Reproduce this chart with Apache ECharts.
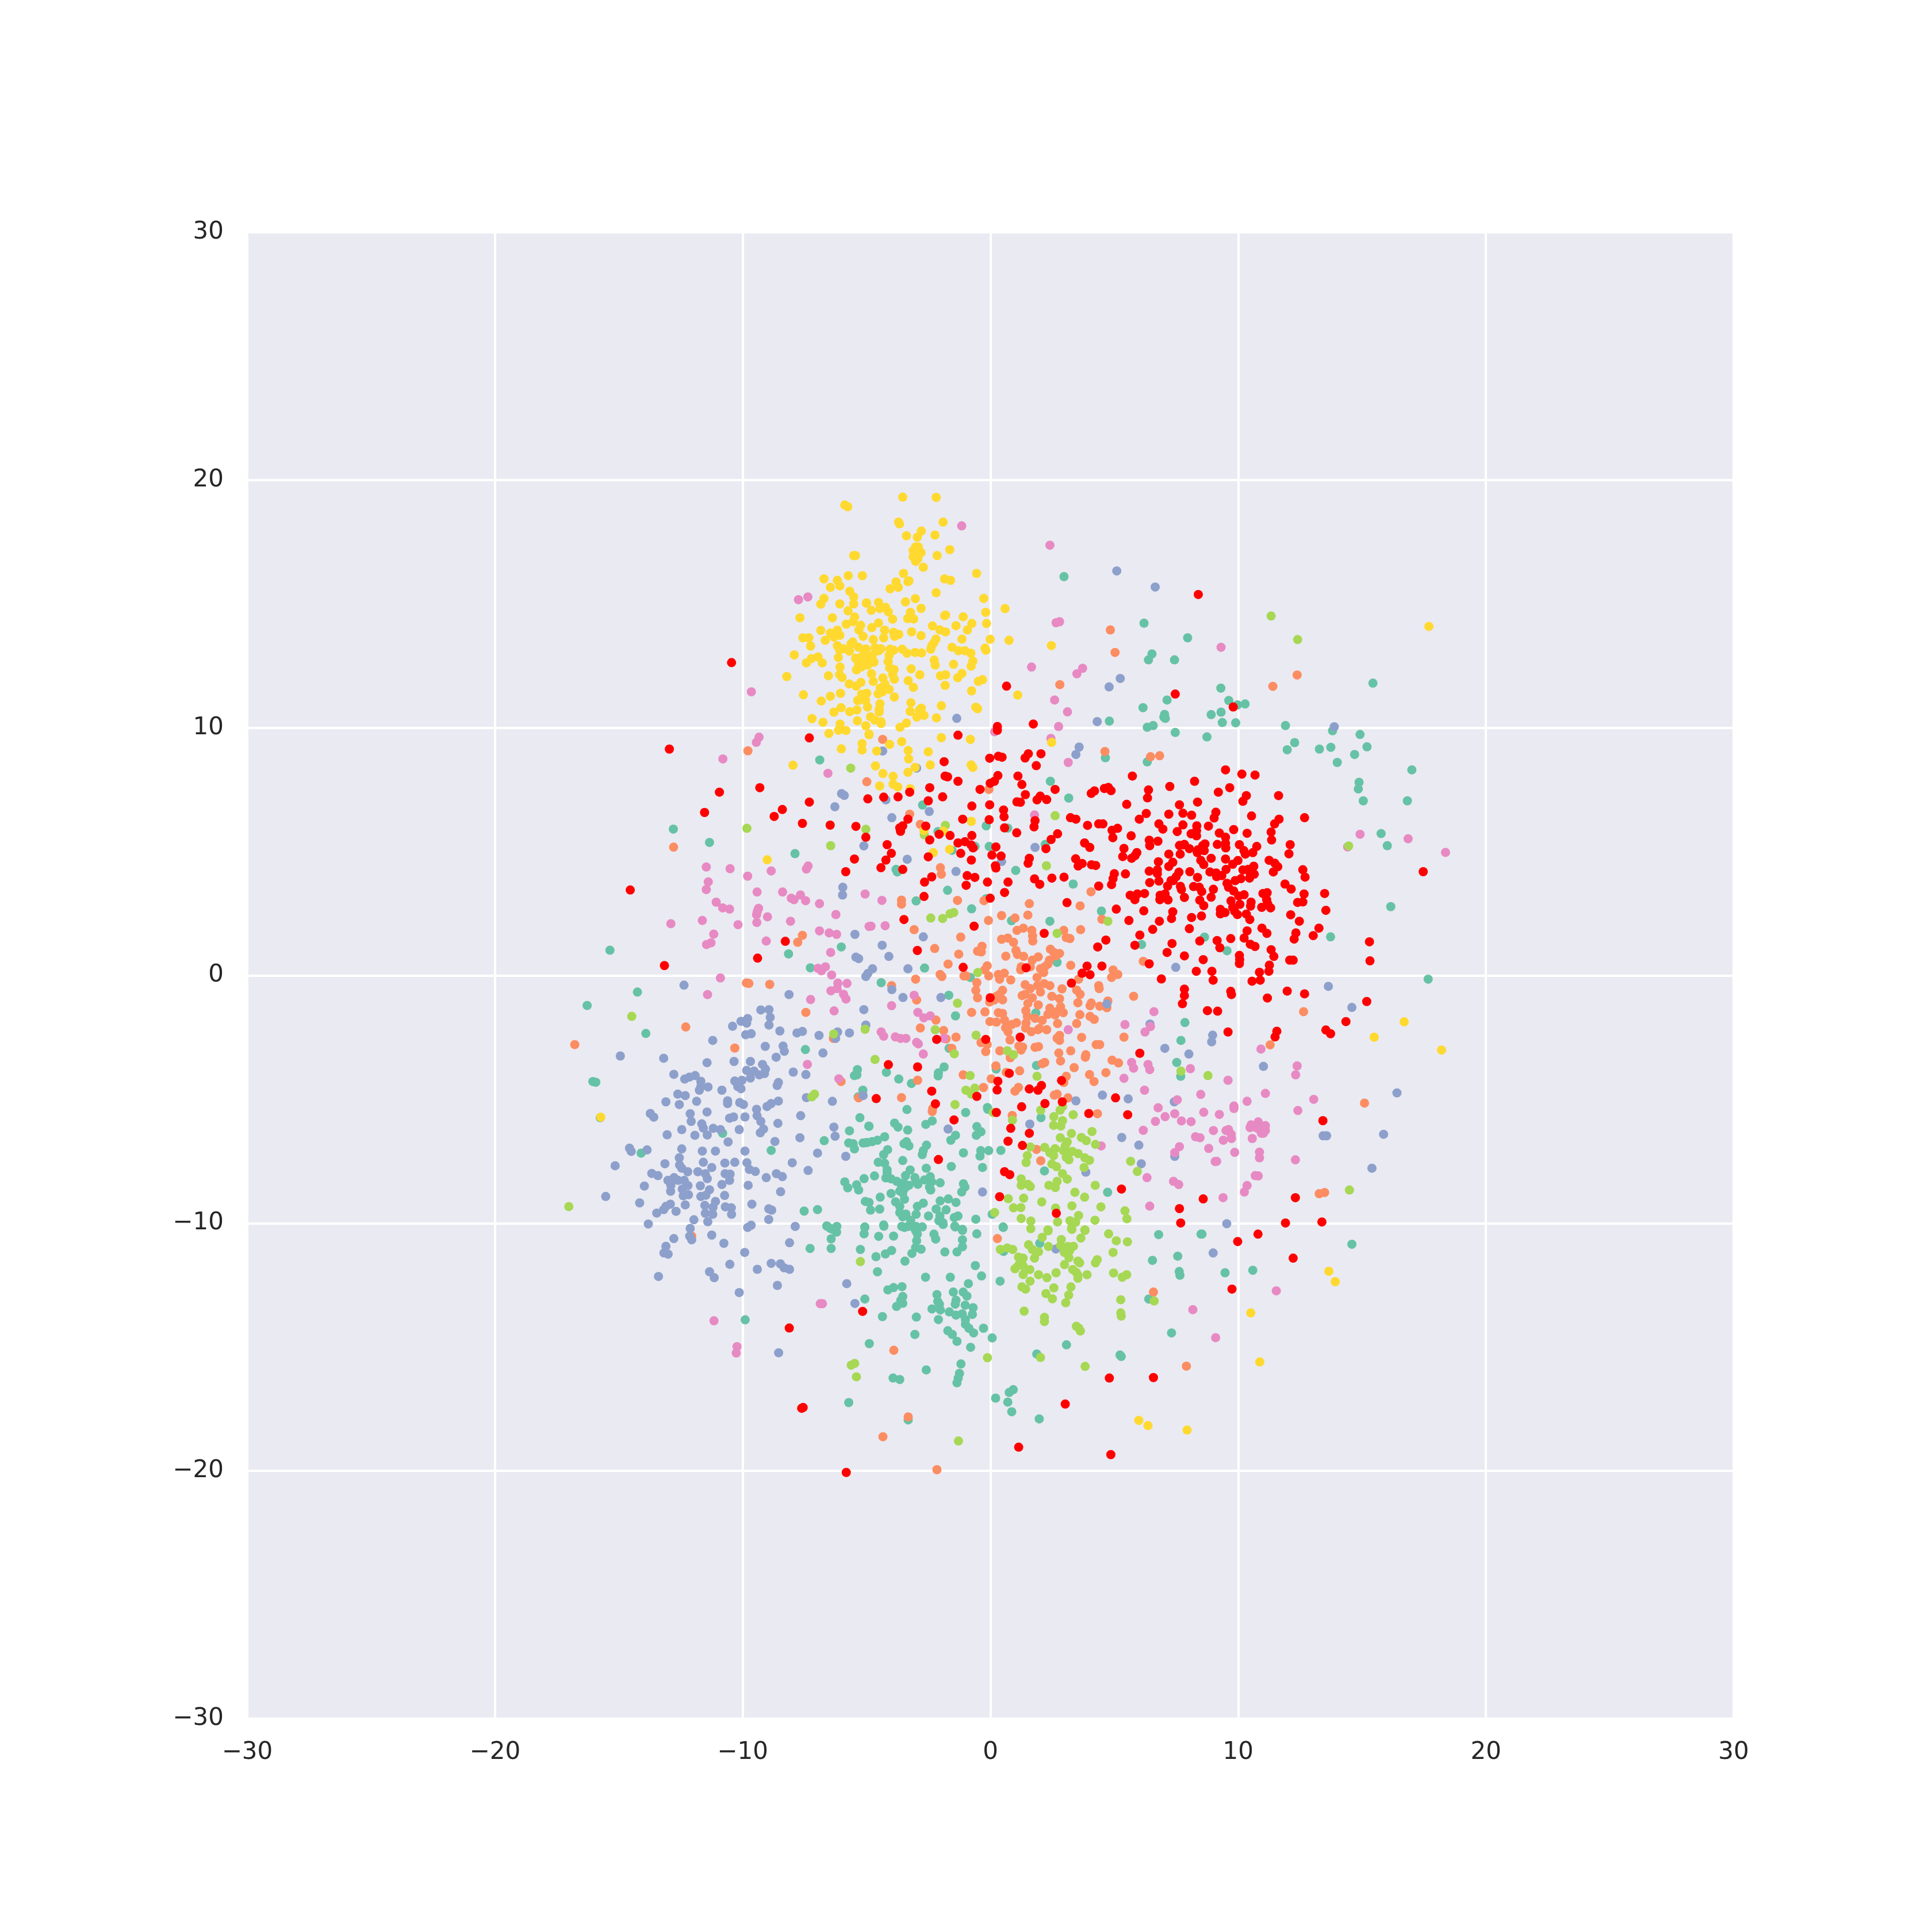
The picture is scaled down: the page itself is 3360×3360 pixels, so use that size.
<!DOCTYPE html>
<html>
<head>
<meta charset="utf-8">
<style>
  html, body { margin: 0; padding: 0; background: #fff; }
  #chart { width: 3360px; height: 3360px; }
</style>
</head>
<body>
<div id="chart"></div>
<script src="https://cdn.jsdelivr.net/npm/echarts@6/dist/echarts.min.js"></script>
<script>
const ticks = [-30, -20, -10, 0, 10, 20, 30]

const green = [
[2.97,16.1],[4.8,10.27],[6.2,14.22],[7.96,13.63],[6.52,12.98],[6.38,12.74],[7.43,12.74],[9.3,11.6],[15.44,11.8],[7.13,11.12],[6.16,10.81],[9.62,11.1],[9.97,10.92],[10.28,10.96],[7.03,10.54],[7.0,10.43],[7.06,10.38],[8.91,10.53],[9.31,10.63],[9.36,10.21],[9.9,10.2],[6.57,10.09],[6.33,10.02],[11.91,10.09],[13.81,9.88],[7.46,9.81],[8.74,9.63],[14.92,9.73],
[12.28,9.4],[11.98,9.11],[13.28,9.14],[13.74,9.21],[15.2,9.23],[14.7,8.92],[14.0,8.6],[17.01,8.3],[14.88,7.8],[14.85,7.53],[15.05,7.05],[16.83,7.05],[15.77,5.73],[16.02,5.24],[13.73,1.56],[16.16,2.78],[8.64,1.55],[9.55,1.0],[17.67,-0.15],
[4.64,8.79],[6.33,8.62],[2.42,7.84],[3.16,7.16],[-2.74,6.88],[-0.17,6.04],[0.7,5.95],[-2.12,5.81],[-0.62,5.21],[-0.05,5.21],[-1.55,5.05],[2.21,5.29],[-3.81,4.28],[-3.76,4.18],[1.02,4.24],[3.34,3.69],[-1.73,3.44],[-3.0,3.01],[-0.17,3.1],[-0.76,2.69],[0.85,2.21],[2.4,2.19],[4.48,2.6],[6.1,1.25],[2.69,0.53],[-2.66,0.3],[-0.81,-0.08],[-4.41,-0.29],
[-6.89,8.7],[-12.8,5.91],[-11.34,5.37],[-7.89,4.92],[-6.02,1.15],[-8.15,0.87],[-7.27,0.31],[-15.36,1.02],
[-14.25,-0.67],[-16.28,-1.21],[-13.91,-2.34],[-16.05,-4.28],[-15.93,-4.31],[-7.47,-2.99],[-5.37,-3.8],[-5.49,-4.04],[-5.39,-4.01],[-5.15,-4.63],[-5.34,-4.9],[-5.27,-5.74],[-10.81,-6.37],[-5.69,-6.27],[-6.71,-6.67],[-5.72,-6.76],[-5.54,-6.79],[-5.49,-7.0],[-5.14,-6.76],[-4.97,-6.74],[-4.9,-6.09],[-8.85,-7.06],[-14.1,-7.17],[-15.75,-5.74],[-5.88,-8.33],[-5.76,-8.57],[-5.4,-8.45],[-5.32,-8.66],[-5.1,-8.2],[-5.05,-9.12],[-7.52,-9.51],[-6.98,-9.45],[-6.61,-10.11],[-6.46,-10.21],[-6.2,-10.13],[-5.07,-10.15],
[-1.68,-0.8],[-1.41,-1.63],[1.83,-1.51],[-1.67,-2.94],[-1.87,-3.69],[-4.2,-3.91],[-3.7,-4.18],[-3.19,-4.36],[-2.1,-3.93],[-2.11,-4.05],[1.86,-3.63],[0.23,-3.78],[7.52,-3.51],[7.68,-4.07],[7.85,-1.9],[7.69,-2.62],[-3.37,-5.41],[-1.0,-5.53],[-0.12,-5.33],[-0.11,-5.4],[-2.35,-5.87],[-2.61,-6.01],[-4.91,-6.08],[-3.87,-5.96],[-3.73,-6.12],[-3.34,-6.24],[-0.55,-6.1],[-0.38,-6.31],[-0.57,-6.45],[-1.41,-6.45],[-1.6,-6.65],[2.04,-5.74],
[-4.27,-6.51],[-4.56,-6.65],[-4.78,-6.71],[-5.03,-6.75],[-3.39,-6.71],[-3.49,-6.79],[-3.29,-6.88],[-2.58,-6.85],[-2.71,-7.07],[-2.75,-7.23],[-4.15,-7.03],[-4.31,-7.23],[-1.09,-7.16],[-0.39,-7.07],[-0.42,-7.29],[-0.07,-7.07],[0.42,-7.06],[-4.53,-7.54],[-4.27,-7.58],[-3.54,-7.47],[-2.59,-7.78],[-1.58,-7.71],[-0.32,-7.75],[2.18,-7.89],[-4.17,-7.85],[-4.17,-7.96],[-3.24,-7.85],[-3.43,-8.08],[-4.68,-8.09],[-4.22,-8.17],[-4.01,-8.21],[-3.05,-8.16],[-3.01,-8.31],[-3.78,-8.31],[-3.62,-8.39],[-3.49,-8.39],[-3.29,-8.47],[-3.58,-8.54],[-3.45,-8.58],[-3.66,-8.7],[-3.54,-8.78],[-2.66,-8.25],[-2.43,-8.12],[-2.37,-8.33],[-2.46,-8.54],[-2.41,-8.66],[-2.93,-8.43],[-2.03,-8.37],[-1.09,-8.41],[-1.03,-8.54],[-1.16,-8.74],[-4.01,-8.8],[-4.45,-8.95],[-3.47,-9.03],[-2.03,-9.1],[-1.7,-9.02],[-1.39,-9.16],[4.73,-8.75],[-3.83,-9.14],[-3.66,-9.32],[-2.71,-9.19],[-2.95,-9.32],[-4.9,-9.16],[-4.84,-9.47],[-4.47,-9.43],[-2.19,-9.43],[-1.79,-9.46],[-3.66,-9.57],[-3.41,-9.63],[-3.54,-9.74],[-3.0,-9.64],[-2.5,-9.71],[-2.04,-9.71],[-2.08,-9.9],[-1.92,-9.98],[-1.31,-9.71],[-1.46,-9.77],[-0.59,-9.84],[0.07,-9.64],[-3.22,-9.88],[-3.33,-10.13],[-3.58,-10.13],[-3.0,-10.13],[-2.75,-10.15],[-3.17,-10.13],[-4.31,-10.07],[-1.44,-10.12],[-1.13,-10.25],[0.51,-10.15],
[-6.58,-10.13],[-6.36,-10.25],[-6.21,-10.36],[-6.43,-10.63],[-5.07,-10.17],[-5.1,-10.43],[-4.3,-10.12],[-4.51,-10.53],[-3.91,-10.52],[-3.47,-10.17],[-3.02,-10.29],[-2.95,-10.44],[-1.91,-10.05],[-1.42,-10.15],[-1.13,-10.29],[-0.55,-10.43],[0.52,-10.17],[-2.28,-10.44],[-2.21,-10.64],[-2.98,-10.71],[-3.02,-10.98],[-2.8,-11.05],[-3.17,-11.22],[-3.99,-11.1],[-4.24,-11.24],[-4.62,-11.35],[-7.28,-11.02],[-6.43,-11.02],[-5.25,-11.06],[-1.84,-11.16],[-1.35,-11.16],[-1.13,-10.95],[-1.13,-10.67],[-3.45,-11.53],[-0.61,-11.71],[-4.56,-11.96],[-2.62,-12.18],[-1.62,-12.18],[-0.36,-12.13],[0.39,-12.34],[-0.89,-12.44],[1.99,-10.81],[0.53,-11.14],[6.79,-10.46],[8.54,-10.44],[7.56,-11.33],[6.54,-11.5],[7.62,-11.95],[7.65,-12.1],
[-4.14,-12.69],[-3.91,-12.6],[-3.57,-12.56],[-3.54,-12.96],[-3.62,-13.11],[-3.54,-13.23],[-3.79,-13.36],[-5.07,-13.06],[-2.16,-12.88],[-2.13,-13.15],[-2.06,-13.27],[-2.36,-13.46],[-2.02,-13.5],[-1.5,-12.78],[-1.1,-12.78],[-0.95,-12.94],[-1.39,-13.11],[-1.42,-13.27],[-1.02,-13.31],[-0.7,-13.41],[-1.66,-13.58],[-1.39,-13.71],[-1.14,-13.66],[-0.73,-13.68],[-4.36,-13.77],[-2.99,-13.79],[-2.1,-13.89],[-1.01,-13.89],[-1.01,-14.08],[-0.87,-14.24],[-0.68,-14.43],[-0.28,-14.24],[-1.72,-14.34],[-1.54,-14.49],[-3.05,-14.49],[0.07,-14.63],[-1.35,-14.77],[-4.89,-14.86],[-0.8,-15.01],[3.07,-14.91],[1.87,-15.28],[5.23,-15.32],[5.28,-15.38],[6.39,-13.06],[7.31,-14.43],[-9.9,-13.9],[-1.19,-15.68],[-2.59,-15.92],[-1.25,-16.06],[-1.3,-16.25],[-1.35,-16.44],[-3.93,-16.25],[-3.66,-16.31],[0.92,-16.72],[0.76,-16.83],[0.21,-17.06],[0.7,-17.22],[0.86,-17.61],[1.97,-17.9],[-5.72,-17.24],[-3.32,-17.94],
[8.5,-10.44],[14.59,-10.85],[9.47,-12.0],[10.59,-11.9]
]

const orange = [
[4.84,13.95],[5.03,13.04],[2.8,11.74],[12.38,12.13],[11.4,11.67],[-9.79,9.07],[-12.79,5.18],[-7.59,1.62],[-7.78,1.34],[-4.99,7.82],[-9.85,-0.3],[-9.75,-0.32],[-8.91,-0.36],
[-4.35,9.53],[4.62,9.04],[6.46,8.83],[6.83,8.87],[-0.06,7.51],[-3.26,6.51],[-2.83,6.1],[-2.02,4.35],[-1.98,4.09],[-3.59,3.04],[-3.59,2.88],[-1.33,3.03],[-0.26,3.02],[4.06,3.38],[1.57,2.9],[3.62,2.81],[0.45,2.42],[0.99,2.32],[1.51,2.44],[-0.08,2.22],[4.5,2.27],[-3.08,1.85],[3.64,1.85],[2.96,1.82],[3.06,1.53],[3.21,1.49],[1.07,1.82],[1.33,1.91],[1.67,1.82],[1.7,1.6],[1.71,1.39],[-1.2,1.55],[0.45,1.46],[0.7,1.51],[0.93,1.34],[-2.25,1.09],[-1.28,0.86],[-0.34,1.18],[-0.52,0.98],[-0.37,0.95],[1.03,1.01],[1.09,0.85],[1.34,0.77],[0.62,0.78],[2.42,1.06],[2.56,0.93],[2.79,0.89],[2.65,0.79],[1.93,0.75],[1.69,0.62],[2.38,0.62],[2.32,0.46],[2.19,0.35],[2.02,0.27],[2.15,0.12],[1.61,0.35],[1.24,0.35],[1.22,0.23],[3.24,0.41],[-1.71,0.46],[-0.13,0.39],[-0.23,0.23],[6.17,0.57],[4.95,0.22],[5.14,0.04],[4.89,-0.08],[-2.03,0.04],[-1.96,-0.04],[-3.02,-0.15],[-1.07,-0.02],[-0.98,-0.02],[-0.07,-0.02],[0.32,0.04],[0.56,0.09],[0.37,-0.15],[0.82,-0.18],[1.88,-0.08],[3.56,-0.15],[-0.55,-0.29],
[-3.99,-0.41],[-2.98,-0.99],[-0.59,-0.6],[-0.52,-0.9],[1.4,-0.37],[1.61,-0.53],[1.9,-0.41],[2.17,-0.33],[2.4,-0.41],[2.02,-0.67],[2.89,-0.54],[3.48,-0.59],[3.62,-0.76],[4.37,-0.41],[4.39,-0.53],[5.78,-0.84],[0.49,-0.6],[0.37,-0.76],[0.24,-0.84],[0.16,-0.99],[0.49,-0.98],[-0.03,-1.07],[1.69,-0.9],[1.28,-0.81],[1.4,-0.76],[2.48,-0.84],[2.79,-0.94],[1.51,-1.13],[1.93,-1.19],[3.53,-1.1],[4.07,-1.11],[4.02,-1.22],[4.74,-1.03],[4.41,-1.24],[4.7,-1.3],[2.83,-1.26],[2.4,-1.32],[2.94,-1.5],[2.69,-1.46],[2.32,-1.57],[2.61,-1.59],[1.43,-1.42],[1.49,-1.65],[-0.76,-1.49],[-0.22,-1.47],[0.32,-1.5],[0.49,-1.53],[3.61,-1.58],[4.02,-1.65],[4.19,-1.77],[1.8,-1.73],[2.09,-1.81],[-2.2,-1.8],[-0.02,-1.86],[0.24,-1.88],[0.57,-1.8],[1.05,-1.91],[0.86,-1.98],[1.44,-1.92],[1.42,-2.12],[1.65,-2.27],[1.92,-2.19],[1.98,-2.14],[2.27,-2.19],[0.61,-2.11],[0.71,-2.27],[2.71,-1.94],[3.48,-1.94],[-2.83,-2.12],[-1.89,-2.22],[2.79,-2.42],[2.69,-2.53],[2.79,-2.62],[3.68,-2.5],[5.39,-2.49],[-1.39,-2.49],[-1.79,-2.56],[0.79,-2.6],[-0.38,-2.71],[-0.13,-2.79],[-0.19,-3.07],[4.27,-2.79],[4.41,-2.79],[1.15,-2.85],[1.3,-2.89],[1.24,-3.01],[1.8,-2.9],[1.94,-2.87],[-1.56,-2.94],[0.38,-3.04],[2.76,-3.13],[3.24,-3.04],[3.85,-3.2],[3.83,-3.3],[0.8,-3.32],[2.83,-3.45],[4.91,-3.42],[5.17,-3.53],[2.19,-3.51],[2.09,-3.56],[0.22,-3.65],[3.38,-3.72],[0.64,-3.91],[1.18,-3.85],[4.66,-3.92],[-1.1,-4.01],[4.0,-4.0],[3.06,-4.07],[0.03,-4.17],[2.96,-4.32],[4.18,-4.28],[-2.94,-4.23],[-0.28,-4.52],[1.13,-4.52],[0.99,-4.67],[-3.59,-4.93],[2.69,-4.79],[2.58,-4.83],[3.13,-4.94],[-2.33,-5.37],[-2.35,-5.49],[4.32,-5.58],[0.88,-5.65],[1.86,-7.02],[2.03,-7.48],
[-12.3,-2.08],[-16.78,-2.79],[-10.32,-2.93],[-7.45,-1.49],[-6.34,-2.54],[-6.03,-4.28],[-5.32,-4.94],[12.64,-1.46],[11.29,-2.8],[15.1,-5.15],[13.27,-8.81],[13.49,-8.76],
[0.28,-10.62],[-12.06,-10.52],[6.58,-12.78],[-3.9,-15.13],[-3.32,-17.82],[-4.34,-18.62],[7.91,-15.77],[-2.16,-19.95]
]

const blue = [
[5.1,16.33],[5.24,11.99],[4.79,11.65],[4.31,10.25],[-1.36,10.38],[6.65,15.68],[13.88,10.04],
[-4.35,9.06],[-2.98,8.37],[3.58,9.22],[3.45,8.92],[-4.22,7.09],[-2.47,6.62],[-3.98,6.37],[-3.36,4.69],[1.8,5.17],[0.45,4.6],[-1.39,4.2],[-5.11,5.23],[-2.71,1.56],[-4.37,1.22],[-4.1,0.77],[-3.33,0.27],[-4.76,0.27],[-4.95,0.08],[-5.03,-0.04],[7.48,0.33],
[-6.01,7.34],[-5.9,7.27],[-6.28,6.81],[-5.96,3.56],[-5.97,3.25],[-5.47,1.66],[-5.43,0.74],[-5.32,0.68],
[-3.98,-0.57],[-3.53,-0.89],[-2.0,-0.89],[-5.11,-1.38],[-5.03,-2.0],[4.7,-1.15],[6.44,-1.96],[7.04,-2.94],[4.52,-4.83],[3.45,-5.06],[5.56,-4.98],[7.42,-5.1],[1.59,-6.0],[-1.71,-6.2],[5.3,-6.54],[5.99,-6.85],[7.44,-7.3],[6.09,-7.6],[3.85,-7.94],[-0.32,-8.74],
[13.64,-0.44],[14.59,-1.29],[8.97,-2.41],[8.93,-2.68],[8.01,-3.17],[11.02,-3.67],[16.41,-4.74],[13.43,-6.47],[13.57,-6.47],[15.87,-6.41],[15.4,-7.78],[9.54,-10.02],[8.99,-11.2],
[-12.37,-0.39],[-8.13,-0.77],[-9.27,-1.39],[-8.94,-1.38],[-8.89,-1.69],[-8.94,-2.0],[-10.07,-1.85],[-9.8,-1.74],[-9.84,-1.92],[-10.41,-2.05],[-8.5,-2.24],[-9.88,-2.39],[-9.66,-2.35],[-7.81,-2.32],[-7.59,-2.26],[-6.92,-2.42],[-6.17,-2.28],[-6.25,-2.54],[-5.69,-2.32],[-11.21,-2.62],[-9.09,-2.86],[-8.37,-2.85],[-8.32,-3.06],[-6.76,-3.13],[-14.94,-3.25],[-13.19,-3.34],[-8.65,-3.3],[-11.44,-3.52],[-10.35,-3.47],[-9.69,-3.47],[-9.2,-3.59],[-9.08,-3.78],[-9.12,-3.96],[-9.33,-4.01],[-9.84,-3.83],[-9.54,-3.86],[-12.78,-3.99],[-7.96,-3.9],[-7.45,-4.0],[-11.92,-4.04],[-12.15,-4.1],[-12.34,-4.18],[-11.69,-4.27],[-10.32,-4.26],[-10.03,-4.23],[-10.16,-4.36],[-10.07,-4.57],[-10.2,-4.48],[-9.69,-4.14],[-8.56,-4.32],[-8.61,-4.44],[-11.4,-4.5],[-11.69,-4.48],[-11.75,-4.63],[-10.84,-4.63],[-12.62,-4.79],[-12.32,-4.85],[-13.1,-5.1],[-12.56,-5.21],[-11.86,-5.08],[-10.61,-5.06],[-10.61,-5.17],[-10.12,-5.13],[-9.97,-5.21],[-8.56,-5.07],[-8.85,-5.17],[-9.02,-5.29],[-7.43,-4.93],[-6.38,-5.08],[-5.14,-4.85],[-9.44,-5.4],[-13.73,-5.57],[-13.59,-5.72],[-12.12,-5.58],[-11.44,-5.51],[-10.53,-5.76],[-10.37,-5.71],[-9.91,-5.71],[-9.42,-5.66],[-9.27,-5.89],[-7.66,-5.66],[-12.08,-5.89],[-11.65,-5.99],[-11.59,-6.16],[-8.58,-5.97],[-6.32,-6.12],[-11.19,-6.17],[-10.9,-6.22],[-11.43,-6.44],[-12.46,-6.22],[-13.05,-6.43],[-11.93,-6.45],[-10.14,-6.22],[-9.16,-6.2],[-9.29,-6.35],[-7.69,-6.55],[-6.27,-6.49],[-10.59,-6.72],[-8.7,-6.7],[-14.57,-6.97],[-14.5,-7.1],[-13.86,-7.04],[-12.46,-7.0],[-11.63,-7.09],[-11.1,-7.09],[-9.91,-7.09],[-6.98,-7.17],[-5.84,-7.3],[-12.56,-7.36],[-9.83,-7.56],[-10.32,-7.54],[-11.59,-7.54],[-10.72,-7.57],[-8.0,-7.56],[-13.14,-7.6],[-15.15,-7.68],[-12.55,-7.65],[-12.46,-7.78],[-12.22,-7.92],[-11.25,-7.75],[-7.36,-7.87],[-9.73,-7.83],[-9.49,-7.91],[-13.67,-7.99],[-13.42,-8.08],[-11.81,-7.92],[-11.51,-8.0],[-11.43,-8.2],[-10.71,-8.0],[-10.51,-8.02],[-10.53,-8.27],[-8.64,-8.0],[-8.4,-8.12],[-9.05,-8.16],[-12.77,-8.16],[-13.02,-8.27],[-12.61,-8.27],[-12.36,-8.27],[-12.9,-8.47],[-12.21,-8.48],[-13.97,-8.5],[-11.71,-8.49],[-10.84,-8.44],[-9.78,-8.47],[-12.91,-8.71],[-12.44,-8.62],[-11.34,-8.65],[-8.47,-8.73],[-12.4,-8.89],[-12.19,-8.85],[-11.69,-8.92],[-11.49,-8.87],[-10.73,-8.88],[-15.53,-8.92],[-14.16,-9.18],[-11.1,-9.12],[-11.53,-9.28],[-12.32,-9.26],[-12.92,-9.23],[-13.1,-9.32],[-13.19,-9.45],[-13.47,-9.59],[-12.69,-9.52],[-11.2,-9.36],[-11.21,-9.64],[-11.51,-9.6],[-10.7,-9.34],[-10.46,-9.38],[-10.45,-9.64],[-9.63,-9.23],[-8.95,-9.42],[-8.83,-9.47],[-8.95,-9.85],[-11.97,-9.86],[-11.41,-9.94],[-13.81,-10.03],[-12.12,-10.21],[-9.66,-10.08],[-9.8,-10.17],[-7.88,-10.13],
[-12.78,-10.62],[-12.14,-10.52],[-12.06,-10.67],[-11.25,-10.48],[-10.76,-10.81],[-13.1,-10.93],[-13.18,-11.2],[-13.01,-11.25],[-9.92,-11.18],[-8.11,-10.79],[-10.52,-11.66],[-9.41,-11.86],[-8.85,-11.62],[-8.48,-11.64],[-8.33,-11.8],[-8.11,-11.86],[-13.4,-12.15],[-11.34,-11.96],[-11.15,-12.2],[-8.6,-12.51],[-10.14,-12.8],[-5.8,-12.44],[-5.47,-13.24],[-8.55,-15.23],[2.64,-11.04]
]

const pink = [
[-1.16,18.15],[2.4,17.37],[2.79,14.28],[2.65,14.24],[1.66,12.45],[3.72,12.4],[3.49,12.18],[2.59,11.12],[3.11,10.64],[2.75,10.05],[0.17,9.84],[-7.75,15.17],[-7.37,15.28],[-9.65,11.45],[9.31,13.25],
[2.44,9.57],[3.14,8.6],[1.78,6.48],[-5.06,3.29],[-4.38,3.03],[-4.82,1.99],[-4.25,2.01],
[-9.34,9.62],[-9.45,9.41],[-10.8,8.74],[-6.56,8.16],[-11.47,4.38],[-10.51,4.31],[-9.8,4.01],[-8.85,4.22],[-7.36,4.42],[-7.43,4.3],[-11.39,3.78],[-11.47,3.47],[-9.42,3.37],[-8.39,3.37],[-8.04,3.12],[-7.93,3.06],[-7.67,3.25],[-7.46,3.02],[-6.9,2.9],[-11.07,2.96],[-10.81,2.73],[-10.53,2.68],[-9.36,2.71],[-9.41,2.59],[-9.44,2.46],[-9.0,2.37],[-6.24,2.46],[-12.9,2.09],[-11.63,2.22],[-10.19,2.05],[-9.43,2.14],[-8.07,2.19],[-6.9,1.8],[-6.51,1.72],[-6.21,1.66],[-4.9,1.98],[-11.17,1.67],[-11.28,1.32],[-11.46,1.25],[-9.05,1.39],[-6.45,0.93],[-6.66,0.35],[-6.96,0.29],[-6.82,0.19],[-6.41,0.02],[-10.9,-0.1],
[-11.42,-0.77],[-6.16,-0.31],[-6.19,-0.53],[-6.44,-0.62],[-5.79,-0.32],[-5.93,-0.76],[-5.83,-0.95],[-7.26,-0.97],[-6.31,-1.43],[-7.39,-3.59],[-6.12,-4.17],
[-3.08,-0.8],[-3.99,-1.22],[-2.93,-1.49],[-2.69,-1.71],[-2.43,-1.63],[-4.41,-2.28],[-4.31,-2.45],[-3.84,-2.48],[-3.63,-2.54],[-3.41,-2.54],[-2.98,-2.7],[-2.91,-2.76],[-2.71,-3.17],[-1.88,-2.54],[3.14,-2.19],[6.6,-1.46],[5.43,-1.98],[6.46,-2.06],[6.24,-2.28],[5.7,-3.51],[5.78,-3.74],[6.36,-3.59],[6.43,-3.8],[5.39,-4.15],[6.22,-4.63],[7.54,-5.02],[6.77,-5.34],[7.44,-5.58],[7.05,-5.7],[6.66,-5.89],[7.71,-5.87],[6.17,-6.25],[4.47,-6.88],[7.63,-6.91],[7.44,-7.15],[6.32,-8.16],[7.39,-8.31],[7.6,-8.44],[6.43,-9.31],
[10.92,-2.97],[8.07,-3.76],[9.59,-4.23],[12.38,-3.65],[12.32,-4.01],[8.49,-4.8],[11.1,-4.76],[10.36,-5.08],[13.05,-5.0],[9.83,-5.27],[9.83,-5.37],[12.41,-5.45],[8.61,-5.52],[9.24,-5.61],[8.1,-5.9],[9.0,-6.26],[9.51,-6.26],[9.61,-6.22],[9.72,-6.41],[9.73,-6.58],[9.4,-6.65],[8.28,-6.51],[8.46,-6.55],[10.57,-6.58],[10.52,-6.03],[10.81,-5.91],[10.48,-6.14],[10.73,-6.14],[11.1,-6.06],[11.1,-6.26],[10.94,-6.37],[11.02,-6.37],[10.81,-6.18],[8.81,-6.98],[9.86,-7.14],[10.86,-7.13],[10.86,-7.36],[9.07,-7.51],[9.13,-7.5],[12.31,-7.44],[10.69,-8.08],[10.81,-8.09],[10.36,-8.48],[10.25,-8.74],[9.39,-8.97],
[11.54,-12.73],[9.09,-14.62],[14.92,5.7],[14.42,5.19],[16.86,5.52],[18.37,4.97],[-6.87,-13.25],[-6.78,-13.25],[-11.16,-13.94],[-10.23,-14.98],[-10.26,-15.24],[8.17,-13.49]
]

const lime = [
[11.33,14.51],[12.4,13.56],[-5.64,8.37],[-9.83,5.94],[-6.45,5.24],[-5.03,5.9],[2.61,6.45],[-1.82,6.06],[-2.67,5.68],[2.26,4.43],[4.74,2.19],[2.69,1.7],[-0.51,0.12],[-2.41,2.32],[-1.93,2.3],[-1.63,2.49],[-1.48,2.54],[14.46,5.23],[-14.48,-1.65],[-17.02,-9.33],[-6.33,-2.36],[-5.06,-2.17],[-7.1,-4.79],[-7.21,-4.9],
[-1.33,-1.12],[-2.23,-2.19],[-0.58,-2.41],[0.68,-3.04],[0.93,-3.2],[-1.46,-3.16],[-4.66,-3.39],[1.88,-4.07],[-0.82,-4.04],[-0.99,-4.63],[-0.63,-4.55],[-0.77,-4.79],[-1.43,-5.21],[0.11,-5.53],[0.89,-5.84],[2.91,-5.29],[2.81,-5.44],[2.03,-5.44],[2.56,-5.7],[3.34,-5.62],[2.91,-5.86],[2.55,-6.05],[2.84,-6.08],[3.27,-6.38],[4.1,-6.3],[2.82,-6.55],[3.1,-6.72],[3.67,-6.54],[3.87,-6.67],[4.24,-6.82],[1.61,-6.92],[2.19,-6.94],[2.4,-7.15],[2.61,-6.99],[2.55,-7.27],[3.02,-6.88],[2.94,-7.07],[3.15,-7.19],[3.06,-7.34],[3.17,-7.44],[3.31,-7.1],[3.54,-7.19],[3.81,-7.36],[4.0,-7.46],[1.49,-7.27],[1.44,-7.55],[2.48,-7.61],[2.67,-7.72],[3.78,-7.75],[5.66,-7.5],[5.93,-7.91],[2.91,-8.0],[3.1,-8.22],[1.24,-8.21],[1.24,-8.47],[1.51,-8.43],[1.61,-8.52],[2.36,-8.47],[2.69,-8.31],[2.62,-8.56],[4.23,-8.47],[3.41,-8.75],[3.8,-8.95],[0.72,-9.01],[1.34,-8.99],[2.07,-9.14],[3.29,-9.3],[4.46,-9.34],[0.93,-9.38],[1.23,-9.37],[2.63,-9.39],[5.43,-9.5],[5.51,-9.82],[0.17,-9.57],[1.24,-9.81],[1.63,-9.91],[2.71,-9.95],[3.56,-9.69],[3.21,-9.9],[3.44,-9.96],[4.22,-9.88],[1.63,-10.22],[2.32,-10.27],[3.27,-10.21],[3.81,-10.27],
[7.69,-3.86],[8.78,-4.04],[14.49,-8.66],
[2.33,-10.31],[3.29,-10.25],[3.82,-10.29],[2.09,-10.57],[2.86,-10.66],[3.65,-10.6],[4.77,-10.43],[5.08,-10.71],[5.53,-10.75],[0.4,-11.06],[0.68,-11],[0.9,-11.06],[1.54,-10.87],[1.69,-11.06],[1.94,-11.15],[2.34,-10.94],[2.83,-10.9],[3.13,-10.94],[3.35,-10.93],[2.98,-11.18],[3.2,-11.1],[4.95,-11.18],[1.13,-11.37],[1.32,-11.41],[1.78,-11.41],[3.17,-11.39],[3.53,-11.53],[3.6,-11.6],[2.99,-11.67],[4.31,-11.47],[4.24,-11.6],[-5.25,-11.55],[1.13,-11.7],[1.32,-11.72],[0.99,-11.84],[1.59,-11.87],[1.32,-12.07],[3.32,-11.87],[3.47,-11.99],[3.53,-12.1],[3.53,-12.22],[3.9,-12.08],[1.94,-12.08],[2.28,-12.2],[2.65,-12.0],[1.6,-12.34],[4.97,-12.01],[5.5,-12.08],[5.32,-12.18],[1.27,-12.57],[1.42,-12.66],[2.56,-12.61],[3.25,-12.57],[2.24,-12.84],[3.16,-12.9],[2.5,-13.05],[3.04,-13.21],[5.26,-13.09],[6.61,-13.14],[1.36,-13.55],[5.26,-13.62],[5.28,-13.75],[2.18,-13.8],[2.18,-13.97],[3.47,-14.16],[3.57,-14.24],[3.63,-14.35],[-0.12,-15.43],[2.02,-15.42],[3.82,-15.78],[-5.48,-15.66],[-5.62,-15.73],[-5.41,-16.2],[-1.29,-18.79]
]

const yellow = [
[-5.88,18.99],[-5.76,18.92],[-5.45,16.95],[-5.52,16.95],[-6.72,16.01],[-6.18,15.95],[-6.08,15.73],[-6.46,15.67],[-5.74,16.14],[-5.17,16.14],[-5.68,15.51],[-5.52,15.28],[-6.72,15.22],[-6.85,14.99],[-6.08,15.0],[-5.52,15.0],[-5.0,15.04],[-5.75,14.72],[-6.38,14.44],[-7.69,14.44],[-5.48,14.47],[-5.55,14.28],[-5.82,14.18],[-5.24,14.14],[-5.31,13.95],[-6.85,13.93],[-6.18,13.94],[-6.46,13.82],[-6.08,13.73],[-6.32,13.66],[-5.14,13.69],[-7.57,13.63],[-7.33,13.63],[-6.67,13.53],[-7.26,13.3],[-5.56,13.46],[-6.18,13.31],[-5.94,13.19],[-6.09,13.15],[-5.33,13.25],[-5.63,13.38],[-5.69,13.09],[-5.03,13.18],[-7.92,12.94],[-6.96,12.86],[-7.23,12.79],[-6.14,12.84],[-5.43,12.8],[-7.43,12.62],[-6.79,12.62],[-6.07,12.45],[-5.39,12.34],[-6.09,12.15],[-8.22,12.07],[-6.54,12.1],[-5.99,12.03],[-5.7,11.77],[-5.23,11.83],[-5.42,11.68],[-7.55,11.33],[-6.05,11.39],[-6.46,11.27],[-6.83,11.08],[-5.34,11.1],[-6.03,10.81],[-6.32,10.63],[-5.68,10.65],[-5.39,10.72],[-7.2,10.37],[-6.76,10.22],[-5.37,10.28],[-6.07,10.15],[-6.13,9.9],[-5.83,9.89],[-6.52,9.77],
[-3.54,19.31],[-2.19,19.3],[-3.71,18.3],[-3.67,18.23],[-1.91,18.3],[-2.79,17.94],[-3.39,17.75],[-2.95,17.69],[-2.24,17.78],[-1.64,17.19],[-2.15,16.95],[-3.02,17.3],[-2.91,17.3],[-3.12,17.15],[-2.8,17.07],[-3.0,17.15],[-3.12,16.9],[-2.93,16.82],[-3.02,16.72],[-2.96,16.98],[-2.71,16.48],[-0.56,16.23],[-3.51,16.23],[-3.81,15.89],[-3.29,15.93],[-3.33,15.9],[-4.05,15.61],[-3.72,15.67],[-1.85,16.01],[-1.61,15.95],[-2.19,15.45],[-0.27,15.22],[0.59,14.81],[-3.43,15.08],[-3.03,15.21],[-2.8,14.82],[-5.01,15.03],[-4.52,15.06],[-4.81,14.74],[-4.46,14.81],[-4.24,14.86],[-4.12,14.68],[-0.19,14.66],[-1.81,14.55],[-1.85,14.53],[-3.23,14.66],[-3.34,14.41],[-3.1,14.39],[-3.95,14.38],[-1.1,14.48],[-0.75,14.21],[-0.16,14.21],[-1.39,14.12],[-2.34,14.11],[-4.52,14.23],[-4.79,14.04],[-2.04,13.95],[-1.81,13.87],[-0.93,13.95],[-4.27,13.94],[-3.18,13.87],[-3.91,13.85],[-3.87,13.69],[-3.7,13.77],[-2.8,13.72],[-4.73,13.56],[-4.31,13.63],[-1.15,13.58],[-0.01,13.57],[0.75,13.53],[-2.2,13.58],[-2.29,13.42],[-2.37,13.31],[-2.41,13.17],[-1.55,13.25],[-0.22,13.21],[-0.18,13.13],[2.46,13.32],[-1.29,13.11],[-1.03,13.11],[-0.79,13.01],[-5.03,13.18],[-4.66,13.23],[-4.42,13.19],[-4.51,13.11],[-4.05,13.17],[-3.91,13.13],[-3.56,13.17],[-3.37,13.01],[-3.04,13.04],[-2.78,13.02],[-4.09,12.92],[-4.13,12.67],[-4.76,12.92],[-4.99,12.88],[-5.15,12.92],[-4.82,12.73],[-4.7,12.65],[-5.07,12.69],[-4.95,12.53],[-5.2,12.46],[-5.32,12.57],[-5.11,12.8],[-5.44,12.8],[-5.41,12.34],[-2.27,12.73],[-2.23,12.53],[-1.49,12.56],[-0.71,12.69],[-0.78,12.49],[-4.07,12.42],[-3.89,12.35],[-3.2,12.38],[-4.8,12.18],[-3.95,12.15],[-3.88,11.96],[-2.85,12.14],[-2.02,12.1],[-1.81,12.14],[-1.15,12.19],[-1.32,12.02],[-4.34,12.01],[-4.73,11.87],[-0.32,11.94],[-0.49,11.87],[-3.32,11.9],[-3.11,11.63],[-1.83,11.71],[-4.26,11.77],[-4.45,11.6],[-4.32,11.6],[-4.09,11.55],[-4.36,11.45],[-4.53,11.37],[-0.76,11.49],[1.1,11.32],[-3.88,11.24],[-4.99,11.39],[-5.2,11.35],[-5.04,11.1],[-5.36,11.1],[-4.96,10.84],[-4.46,10.97],[-4.49,10.75],[-4.49,10.64],[-3.21,11.01],[-3.24,10.66],[-2.79,10.79],[-2.87,10.71],[-2.68,10.5],[-2.97,10.43],[-1.98,10.89],[-0.59,10.83],[-0.52,10.77],[-2.18,10.4],[-4.84,10.44],[-4.67,10.31],[-4.42,10.25],[-4.41,10.17],[-5.03,10.08],[-3.39,10.19],[-3.65,10.02],[-4.9,9.74],
[-4.9,9.72],[-1.98,9.6],[-0.81,9.53],[-4.07,9.33],[-3.58,9.44],[-4.59,9.06],[-3.32,9.08],[-2.51,9.03],[-3.3,8.74],[-2.43,8.5],[-4.64,8.46],[-0.78,8.5],[-0.71,8.4],[-3.04,8.4],[-3.33,8.2],[-4.34,8.15],[-3.93,8.04],[-3.93,7.72],[-4.47,7.65],[-3.74,7.61],[-3.24,7.54],[2.47,9.41],[-0.77,6.22],[-2.68,5.85],[-1.9,5.83],[-1.65,5.09],[-2.31,4.96],[-6.02,9.15],[-5.18,9.36],[-5.18,9.1],[-7.97,8.49],[-9.01,4.67],[17.7,14.09],[16.7,-1.87],[15.49,-2.49],[18.21,-3.01],[-15.73,-5.72],[5.99,-17.96],[6.36,-18.17],[7.94,-18.35],[13.66,-11.94],[13.92,-12.36],[10.51,-13.62],[10.87,-15.6]
]

const red = [
[-10.45,12.63],[0.65,11.68],[1.73,10.15],[0.28,10.05],[0.28,9.9],[-1.31,9.7],[-7.31,9.59],[8.39,15.38],[7.46,11.36],[9.8,10.84],
[-12.96,9.14],[-10.94,7.4],[-9.31,7.58],[-11.54,6.58],[-7.31,7.0],[-8.4,6.7],[-8.73,6.42],[-7.59,6.14],[-6.47,6.07],[-5.43,6.02],[-5.03,5.58],[-4.95,7.13],[-5.49,4.7],[-5.84,4.19],[-14.54,3.45],[-8.28,1.38],[-9.4,0.7],[-13.16,0.4],
[-0.03,8.77],[0.32,8.85],[0.47,8.81],[1.53,8.95],[1.4,8.78],[2.04,8.95],[1.85,8.47],[-1.87,8.63],[-1.83,8.05],[-1.73,8.02],[-1.31,7.84],[-2.45,7.58],[-0.42,7.51],[-0.01,7.76],[0.16,7.84],[0.3,8.07],[1.11,8.05],[1.27,7.71],[2.61,7.51],[1.41,7.3],[2.01,7.24],[1.88,7.09],[2.27,7.1],[1.07,7.01],[1.21,6.99],[5.73,8.05],[4.2,7.45],[4.07,7.35],[4.6,7.55],[4.76,7.59],[4.87,7.46],[7.24,7.63],[6.38,7.49],[6.34,7.17],[5.5,6.91],[7.63,6.89],[3.23,6.37],[3.45,6.31],[3.92,6.06],[4.37,6.12],[4.54,6.12],[5.13,5.94],[4.91,5.86],[4.94,5.56],[6.01,6.31],[6.29,6.54],[7.2,6.51],[7.77,6.55],[6.8,6.12],[6.96,5.91],[7.77,6.08],[7.54,5.81],[5.68,5.64],[6.41,5.46],[6.43,5.24],[6.76,5.42],[7.63,5.25],[7.79,5.27],[7.2,4.9],[7.66,4.9],[5.39,5.13],[5.91,4.96],[5.84,4.84],[5.7,4.73],[5.34,4.8],[3.8,5.35],[4.01,5.17],[2.71,5.72],[2.45,5.49],[2.24,5.12],[3.44,4.71],[3.7,4.52],[3.54,4.42],[4.08,4.47],[4.25,4.44],[6.78,4.59],[7.36,4.57],[7.2,4.4],[6.41,4.21],[6.74,4.26],[6.74,4.11],[7.61,4.17],[7.5,3.99],[7.38,3.83],[7.29,3.83],[5.0,4.11],[4.95,3.91],[4.89,3.67],[5.45,4.1],[6.43,3.75],[6.8,3.81],[7.15,3.61],[7.67,3.6],[7.71,3.47],[4.37,3.61],[5.64,3.24],[5.93,3.29],[5.83,3.06],[6.22,3.31],[6.85,3.24],[7.05,3.29],[6.84,3.06],[7.17,3.05],[7.83,3.15],[3.09,2.94],[5.08,2.68],[6.19,2.61],[7.36,2.57],[7.31,2.3],[5.59,2.22],[6.82,2.19],[6.55,1.86],[6.03,1.63],[4.66,1.43],[4.33,1.15],[5.83,1.22],[7.33,1.29],[7.13,0.93],[7.83,0.79],[6.41,0.47],[4.5,0.38],[3.9,0.38],[3.7,0.09],[4.02,0.03],[6.9,-0.14],[3.27,-0.31],
[-4.31,7.2],[-3.73,7.21],[-3.26,7.4],[-2.51,7.05],[-1.93,7.21],[-0.75,6.84],[-0.03,6.89],[0.53,6.68],[0.55,6.41],[-0.05,6.29],[-1.12,6.31],[-3.33,6.31],[-3.54,6.04],[-3.66,5.96],[-3.63,5.82],[-2.61,6.03],[1.8,6.25],[1.76,6.0],[0.57,5.96],[1.06,5.76],[-2.07,5.7],[-1.63,5.65],[-0.75,5.65],[-2.45,5.47],[-1.31,5.35],[-1.03,5.4],[-0.78,5.27],[-0.7,5.15],[0.22,5.19],[-4.17,5.28],[-4.0,4.93],[-4.22,4.66],[-2.51,4.79],[-1.2,4.93],[-0.77,4.66],[0.06,4.86],[0.43,4.82],[-4.42,4.35],[-3.54,4.28],[0.2,4.43],[0.22,4.34],[1.57,4.73],[1.52,4.53],[-2.37,3.98],[-2.66,3.77],[-0.94,4.03],[-0.63,3.96],[-0.98,3.64],[-0.12,3.77],[0.71,3.77],[1.78,3.9],[1.99,3.68],[2.48,3.93],[2.97,3.97],[0.57,3.35],[-2.68,3.19],[-0.01,3.12],[-3.49,2.26],[-0.66,1.99],[2.17,1.7],[-2.95,1.01],[-1.1,0.33],[1.44,0.31],
[9.49,8.3],[10.15,8.13],[10.68,8.09],[8.24,7.84],[9.66,7.58],[9.2,7.4],[10.33,7.26],[10.19,7.03],[11.63,7.26],[8.36,7.0],[8.12,6.47],[9.1,6.59],[9.03,6.36],[10.54,6.44],[12.68,6.37],[11.65,6.31],[11.47,6.12],[8.33,6.04],[8.32,5.85],[8.8,6.03],[9.82,5.89],[11.33,5.79],[9.24,5.75],[10.36,5.74],[8.1,5.72],[8.32,5.64],[9.49,5.58],[11.35,5.47],[9.49,5.34],[9.5,5.15],[12.1,5.28],[7.83,5.29],[8.03,5.12],[8.66,5.31],[8.57,5.24],[8.63,5.04],[8.37,5.07],[8.35,4.96],[9.16,5.29],[10.05,5.28],[10.75,5.21],[10.23,5.04],[10.29,4.9],[10.59,4.96],[12.05,4.91],[8.91,4.73],[9.49,4.7],[8.49,4.65],[8.61,4.48],[9.99,4.64],[9.78,4.49],[11.25,4.65],[11.48,4.53],[11.6,4.39],[11.42,4.18],[10.63,4.41],[9.51,4.28],[10.19,4.26],[10.4,4.28],[10.48,4.14],[10.65,4.09],[10.46,3.93],[12.61,4.27],[12.7,3.97],[8.86,4.18],[9.11,4.14],[9.13,3.99],[9.34,4.03],[8.05,4.19],[8.36,3.96],[17.47,4.19],[9.88,3.83],[10.11,3.91],[9.55,3.72],[9.61,3.56],[8.2,3.59],[8.43,3.56],[8.53,3.39],[9.0,3.48],[8.91,3.16],[11.89,3.69],[12.14,3.49],[9.82,3.41],[10.02,3.21],[10.24,3.26],[11.0,3.31],[11.17,3.34],[12.66,3.29],[13.49,3.31],[11.15,3.06],[11.19,2.9],[12.4,2.95],[12.61,2.97],[8.45,3.04],[8.61,2.82],[9.71,3.01],[9.78,2.75],[10.07,2.87],[10.52,2.96],[10.5,2.8],[10.95,2.75],[11.31,2.73],[13.54,2.63],[9.28,2.67],[9.28,2.49],[9.47,2.54],[9.86,2.59],[9.97,2.46],[10.33,2.48],[10.47,2.26],[12.12,2.45],[8.52,2.4],[8.12,2.34],[12.47,2.19],[8.03,1.89],[10.96,1.91],[11.16,1.7],[10.36,1.8],[10.24,1.51],[12.33,1.72],[12.26,1.47],[13.26,1.91],[13.03,1.61],[15.3,1.36],[8.45,1.39],[9.15,1.41],[9.26,1.12],[9.7,1.49],[10.49,1.26],[10.68,1.17],[11.33,1.04],[11.44,0.77],[8.59,0.64],[10.05,0.81],[10.06,0.64],[10.05,0.48],[12.08,0.62],[12.22,0.62],[15.32,0.59],[11.26,0.42],[11.24,0.17],[8.31,0.17],[8.94,0.17],[10.86,0.13],[8.99,-0.19],[10.56,-0.23],[10.89,-0.19],
[7.83,-0.55],[7.83,-0.81],[7.75,-1.14],[8.76,-1.42],[9.17,-1.44],[9.7,-0.64],[9.73,-0.77],[11.18,-0.91],[11.98,-0.63],[12.68,-0.74],[15.19,-1.05],[14.35,-1.86],[13.54,-2.2],[13.73,-2.35],[11.56,-2.25],[11.49,-2.48],[9.59,-2.28],[13.42,-5.86],[8.59,-9.02],[12.31,-8.97],[7.63,-9.41],[7.68,-9.99],[11.91,-9.99],[13.38,-9.95],
[-0.01,-0.9],[1.2,-2.49],[-2.17,-2.58],[-0.19,-2.58],[6.03,-3.14],[-4.12,-3.6],[-2.94,-3.69],[0.76,-3.95],[0.3,-4.27],[0.27,-4.62],[2.87,-4.24],[2.06,-4.44],[1.92,-4.63],[1.57,-4.58],[-2.37,-4.67],[-4.61,-4.97],[-0.55,-4.88],[5.05,-4.94],[-2.22,-5.18],[2.2,-5.17],[2.9,-5.1],[1.26,-5.3],[0.24,-5.53],[3.97,-5.57],[5.54,-5.62],[-1.47,-5.83],[0.82,-6.17],[1.57,-6.37],[0.71,-6.69],[1.29,-6.86],[-2.1,-7.43],[0.57,-7.92],[0.78,-8.04],[5.29,-8.62],[0.37,-8.93],[2.66,-9.6],
[-5.16,-13.56],[-8.12,-14.23],[-7.62,-17.47],[-7.56,-17.44],[4.8,-16.25],[6.58,-16.23],[3.02,-17.3],[1.14,-19.04],[4.86,-19.34],[-5.82,-20.06],
[10.8,-10.44],[9.98,-10.74],[12.22,-11.41],[9.75,-12.66]
]

const groups = [
  { name: 'green', color: '#66c2a5', data: green },
  { name: 'orange', color: '#fc8d62', data: orange },
  { name: 'blue', color: '#8da0cb', data: blue },
  { name: 'pink', color: '#e78ac3', data: pink },
  { name: 'lime', color: '#a6d854', data: lime },
  { name: 'yellow', color: '#ffd92f', data: yellow },
  { name: 'red', color: '#ff0000', data: red },
]

const tickLabel = v => (ticks.includes(v) ? String(v).replace('-', '\u2212') : '')

const axisBase = {
  type: 'value',
  min: ticks[0],
  max: ticks[ticks.length - 1],
  interval: 10,
  axisLine: { show: false },
  axisTick: { show: false },
  splitLine: { show: true, lineStyle: { color: '#ffffff', width: 4 } },
}

const labelStyle = {
  color: '#262626',
  fontFamily: 'DejaVu Sans',
  fontSize: 42,
  formatter: tickLabel,
  showMinLabel: true,
  showMaxLabel: true,
}

const chart = echarts.init(document.getElementById('chart'), null, { renderer: 'canvas' })

chart.setOption({
  animation: false,
  backgroundColor: '#ffffff',
  grid: {
    left: 430,
    top: 404,
    width: 2585,
    height: 2585,
    show: true,
    backgroundColor: '#eaeaf2',
    borderWidth: 0,
  },
  xAxis: { ...axisBase, axisLabel: { ...labelStyle, margin: 38 } },
  yAxis: { ...axisBase, axisLabel: { ...labelStyle, margin: 41, padding: [14, 0, 0, 0] } },
  series: groups.map(g => ({
    name: g.name,
    type: 'scatter',
    symbol: 'circle',
    symbolSize: 16,
    silent: true,
    itemStyle: { color: g.color, opacity: 1 },
    data: g.data,
  })),
})
</script>
</body>
</html>
